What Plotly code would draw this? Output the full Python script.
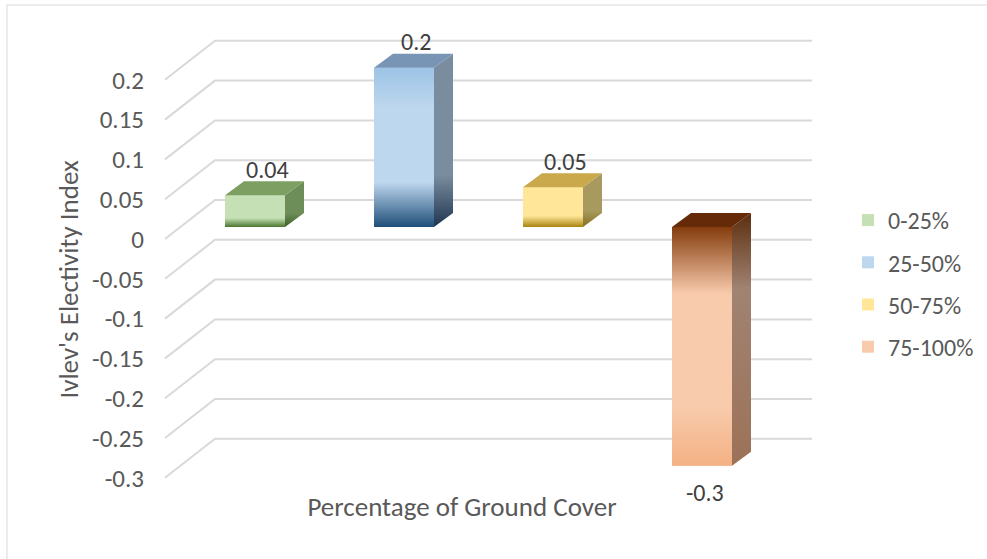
import plotly.graph_objects as go

# ---------------- data ----------------
categories = ["0-25%", "25-50%", "50-75%", "75-100%"]
values = [0.04, 0.2, 0.05, -0.3]
value_labels = ["0.04", "0.2", "0.05", "-0.3"]
tick_values = [0.2, 0.15, 0.1, 0.05, 0, -0.05, -0.1, -0.15, -0.2, -0.25, -0.3]
tick_labels = ["0.2", "0.15", "0.1", "0.05", "0", "-0.05", "-0.1", "-0.15", "-0.2", "-0.25", "-0.3"]
x_title = "Percentage of Ground Cover"
y_title = "Ivlev's Electivity Index"

# ---------------- styling ----------------
front_colors = ["#C5E0B4", "#BDD7EE", "#FFE699", "#F8CBAD"]
near_colors = ["#4A7630", "#1F4E79", "#A8850F", "#843C0C"]      # dark band near zero
far_colors = ["#C5E0B4", "#9DC3E6", "#FFE699", "#F4B183"]       # far end tint
top_colors = ["#7E9F62", "#7895B5", "#C9A94B", "#652B08"]
side_far = ["#6D8E58", "#7A8D9F", "#A89A5E", "#9C7258"]
side_mid = ["#6D8E58", "#7A8D9F", "#A89A5E", "#A08372"]
side_near = ["#3F5F2A", "#1F3550", "#857020", "#5C2E10"]
NEAR_FRAC = 0.28

FONT = "Carlito, Calibri, Lato, sans-serif"
TXT = "#595959"
GRID = "#D9D9D9"

W, H = 987, 559
PX = 796.0            # pixels per index unit
FRONT_ZERO = 239      # pixel row of 0 on the front plane
FACE_ZERO = 227       # pixel row of 0 on the bar face plane
BACK_UP = 39 / PX     # back wall raised vs front plane
BACK_LEFT, BACK_RIGHT, FRONT_LEFT = 215, 812, 165
BAR_DX, BAR_DY = 19, 14 / PX
BAR_W = 60
BAR_X0, BAR_STEP = 255, 149
X_END = 924


def yrange(zero_px):
    return [(zero_px - H) / PX, zero_px / PX]


fig = go.Figure()

# grid: left wall diagonals + back wall lines
gx, gy = [], []
for v in tick_values:
    gx += [FRONT_LEFT, BACK_LEFT, BACK_RIGHT, None]
    gy += [v, v + BACK_UP, v + BACK_UP, None]
fig.add_trace(go.Scatter(x=gx, y=gy, mode="lines", line=dict(color=GRID, width=2),
                         hoverinfo="skip", showlegend=False, xaxis="x", yaxis="y"))


def hex_rgba(h, a):
    h = h.lstrip("#")
    return "rgba(%d,%d,%d,%s)" % (int(h[0:2], 16), int(h[2:4], 16), int(h[4:6], 16), a)


annotations = []
for i, (cat, v) in enumerate(zip(categories, values)):
    xc = BAR_X0 + i * BAR_STEP
    x0, x1 = xc - BAR_W / 2, xc + BAR_W / 2
    fig.add_trace(go.Bar(x=[xc], y=[v], width=[BAR_W], name=cat, legendgroup=cat,
                         marker=dict(color=front_colors[i], line=dict(width=0)),
                         xaxis="x", yaxis="y2"))
    pos = v >= 0
    # near-zero dark band
    band = v * NEAR_FRAC
    lo, hi = (0, band) if pos else (band, 0)
    scale = ([[0, near_colors[i]], [1, hex_rgba(near_colors[i], 0)]] if pos
             else [[0, hex_rgba(near_colors[i], 0)], [1, near_colors[i]]])
    fig.add_trace(go.Scatter(x=[x0, x1, x1, x0, x0], y=[lo, lo, hi, hi, lo], mode="none",
                             fill="toself", fillgradient=dict(type="vertical", colorscale=scale),
                             hoverinfo="skip", showlegend=False, xaxis="x", yaxis="y2"))
    # far-end tint
    fb = v * 0.75
    lo2, hi2 = (fb, v) if pos else (v, fb)
    scale2 = ([[0, hex_rgba(far_colors[i], 0)], [1, far_colors[i]]] if pos
              else [[0, far_colors[i]], [1, hex_rgba(far_colors[i], 0)]])
    fig.add_trace(go.Scatter(x=[x0, x1, x1, x0, x0], y=[lo2, lo2, hi2, hi2, lo2], mode="none",
                             fill="toself", fillgradient=dict(type="vertical", colorscale=scale2),
                             hoverinfo="skip", showlegend=False, xaxis="x", yaxis="y2"))
    # side face
    top = max(v, 0)
    bot = min(v, 0)
    sscale = ([[0, side_near[i]], [0.3, side_mid[i]], [1, side_far[i]]] if pos
              else [[0, side_far[i]], [0.7, side_mid[i]], [1, side_near[i]]])
    fig.add_trace(go.Scatter(x=[x1, x1 + BAR_DX, x1 + BAR_DX, x1, x1],
                             y=[bot, bot + BAR_DY, top + BAR_DY, top, bot], mode="none",
                             fill="toself", fillgradient=dict(type="vertical", colorscale=sscale),
                             hoverinfo="skip", showlegend=False, xaxis="x", yaxis="y2"))
    # top face
    fig.add_trace(go.Scatter(x=[x0, x1, x1 + BAR_DX, x0 + BAR_DX, x0],
                             y=[top, top, top + BAR_DY, top + BAR_DY, top], mode="none",
                             fill="toself", fillcolor=top_colors[i],
                             hoverinfo="skip", showlegend=False, xaxis="x", yaxis="y2"))
    if pos:
        annotations.append(dict(x=xc + 12, y=v + BAR_DY, xref="x", yref="y2", text=value_labels[i],
                                showarrow=False, yanchor="middle", yshift=12,
                                font=dict(family=FONT, size=24, color="#404040")))
    else:
        annotations.append(dict(x=xc + 3, y=v, xref="x", yref="y2", text=value_labels[i],
                                showarrow=False, yanchor="middle", yshift=-27,
                                font=dict(family=FONT, size=24, color="#404040")))

fig.update_layout(
    width=W, height=H,
    margin=dict(l=0, r=0, t=0, b=0),
    paper_bgcolor="white", plot_bgcolor="rgba(0,0,0,0)",
    barmode="overlay",
    font=dict(family=FONT, color=TXT, size=24),
    xaxis=dict(domain=[0, X_END / W], range=[0, X_END], anchor="free", position=1 - 482 / H,
               showgrid=False, zeroline=False, showline=False, showticklabels=False, ticks="",
               automargin=False, fixedrange=True,
               title=dict(text=x_title, font=dict(family=FONT, size=27, color=TXT), standoff=15)),
    yaxis=dict(range=yrange(FRONT_ZERO), anchor="free", position=144 / W,
               tickmode="array", tickvals=tick_values, ticktext=tick_labels,
               showgrid=False, zeroline=False, showline=False, ticks="",
               tickfont=dict(family=FONT, size=25, color=TXT), automargin=False, fixedrange=True,
               title=dict(text=y_title, font=dict(family=FONT, size=27, color=TXT), standoff=4)),
    yaxis2=dict(range=yrange(FACE_ZERO), overlaying="y", anchor="x", visible=False,
                showgrid=False, zeroline=False, fixedrange=True),
    legend=dict(x=848 / W, xanchor="left", y=1 - 283.5 / H, yanchor="middle",
                traceorder="grouped", tracegroupgap=8,
                font=dict(family=FONT, size=24, color=TXT), bgcolor="rgba(0,0,0,0)"),
    annotations=annotations,
    shapes=[dict(type="rect", xref="paper", yref="paper", x0=7 / W, x1=1.02, y0=-0.02, y1=1 - 5 / H,
                 line=dict(color="#D9D9D9", width=1), fillcolor="rgba(0,0,0,0)", layer="below")],
    showlegend=True,
)

fig.write_html("out.html")
